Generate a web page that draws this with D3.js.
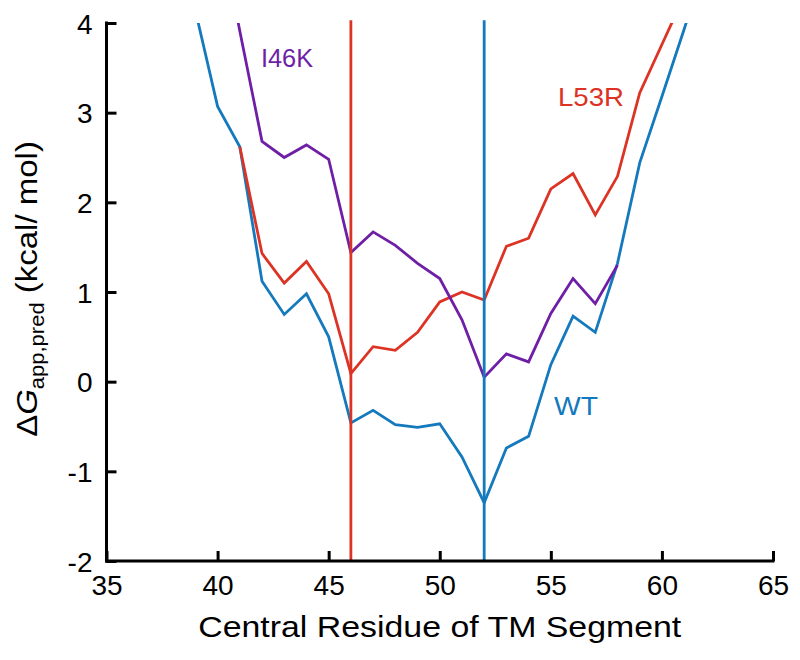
<!DOCTYPE html>
<html><head><meta charset="utf-8">
<script src="https://cdn.jsdelivr.net/npm/d3@7"></script>
<style>body{margin:0;background:#fff}svg{display:block}text{font-family:"Liberation Sans",Arial,Helvetica,sans-serif}</style>
</head><body>
<script>
const xTicks = [35,40,45,50,55,60,65];
const yTicks = [-2,-1,0,1,2,3,4];
const wtX = [39,40,41,42,43,44,45,46,47,48,49,50,51,52,53,54,55,56,57,58,59,60,61,62];
const wtY = [4.14,3.07,2.62,1.12,0.75,0.98,0.50,-0.46,-0.32,-0.48,-0.51,-0.47,-0.84,-1.35,-0.74,-0.61,0.19,0.73,0.55,1.32,2.44,3.18,3.93,4.7];
const i46kX = [40,41,42,43,44,45,46,47,48,49,50,51,52,53,54,55,56,57,58];
const i46kY = [5.2,3.91,2.68,2.50,2.64,2.48,1.44,1.67,1.52,1.32,1.15,0.69,0.05,0.31,0.22,0.76,1.15,0.87,1.30];
const l53rX = [41,42,43,44,45,46,47,48,49,50,51,52,53,54,55,56,57,58,59,60,61];
const l53rY = [2.62,1.43,1.10,1.34,0.98,0.09,0.39,0.35,0.55,0.89,1.00,0.91,1.51,1.60,2.15,2.32,1.86,2.29,3.22,3.76,4.3];
const mutPositions = [46,52];
const seriesNames = ["WT","I46K","L53R"];

const colors = {WT:"#1479bd", I46K:"#6e1fa6", L53R:"#dc3324"};
const W=800,H=660;
const svg=d3.select("body").append("svg").attr("width",W).attr("height",H);
const x=d3.scaleLinear().domain([35,65]).range([106.5,773]);
const y=d3.scaleLinear().domain([-2,4]).range([561,23]);

svg.append("defs").append("clipPath").attr("id","clip")
  .append("rect").attr("x",x(35)).attr("y",y(4)).attr("width",x(65)-x(35)).attr("height",y(-2)-y(4));

const line=d3.line().x(d=>x(d[0])).y(d=>y(d[1]));
const g=svg.append("g").attr("clip-path","url(#clip)");
const data={
  WT: wtX.map((v,i)=>[v,wtY[i]]),
  I46K: i46kX.map((v,i)=>[v,i46kY[i]]),
  L53R: l53rX.map((v,i)=>[v,l53rY[i]])
};
["WT","L53R","I46K"].forEach(k=>{
  g.append("path").datum(data[k]).attr("d",line).attr("fill","none")
   .attr("stroke",colors[k]).attr("stroke-width",2.8).attr("stroke-linejoin","miter");
});
// vertical mutation lines
svg.append("line").attr("x1",x(mutPositions[0])).attr("x2",x(mutPositions[0]))
  .attr("y1",y(4.03)).attr("y2",y(-2)).attr("stroke",colors.L53R).attr("stroke-width",2.8);
svg.append("line").attr("x1",x(mutPositions[1])).attr("x2",x(mutPositions[1]))
  .attr("y1",y(4.03)).attr("y2",y(-2)).attr("stroke",colors.WT).attr("stroke-width",2.8);

// axes
const fmt=d=>String(d);
const xAxis=d3.axisBottom(x).tickValues(xTicks).tickFormat(fmt).tickSize(-10).tickSizeOuter(0);
const yAxis=d3.axisLeft(y).tickValues(yTicks).tickFormat(fmt).tickSize(-10).tickSizeOuter(0);
const gx=svg.append("g").attr("transform",`translate(0,${y(-2)})`).call(xAxis);
const gy=svg.append("g").attr("transform",`translate(${x(35)},0)`).call(yAxis);
[gx,gy].forEach(a=>{
  a.attr("font-family",null).attr("font-size",28);
  a.select(".domain").attr("stroke","#000").attr("stroke-width",3);
  a.selectAll(".tick line").attr("stroke","#000").attr("stroke-width",3);
  a.selectAll(".tick text").style("font-size","28px").attr("fill","#000");
});
gx.select(".domain").attr("d",`M${x(35)-1.5},0H${x(65)+1.5}`);
gy.select(".domain").attr("d",`M0,${y(4)-1.5}V${y(-2)+1.5}`);
gx.selectAll(".tick text").attr("dy","0.72em").attr("y",14);
gy.selectAll(".tick text").attr("x",-14).attr("dy","0.36em");

// axis titles
svg.append("text").attr("x",(x(35)+x(65))/2).attr("y",637).attr("text-anchor","middle")
  .attr("font-size",29).attr("textLength",483).attr("lengthAdjust","spacingAndGlyphs")
  .text("Central Residue of TM Segment");
const yt=svg.append("text").attr("transform",`translate(37,289) rotate(-90) scale(1.1,1)`)
  .attr("text-anchor","middle").attr("font-size",30);
yt.append("tspan").text("\u0394");
yt.append("tspan").attr("font-style","italic").text("G");
yt.append("tspan").attr("font-size",20).attr("dy",7).text("app,pred");
yt.append("tspan").attr("dy",-7).text(" (kcal/ mol)");

// series labels
const labels=[["I46K",261,67,52],["L53R",558,106,66],["WT",554,415,44]];
labels.forEach(([t,lx,ly,tl])=>{
  svg.append("text").attr("x",lx).attr("y",ly).attr("font-size",26.5).attr("fill",colors[t])
    .attr("textLength",tl).attr("lengthAdjust","spacingAndGlyphs").text(t);
});
</script>
</body></html>
